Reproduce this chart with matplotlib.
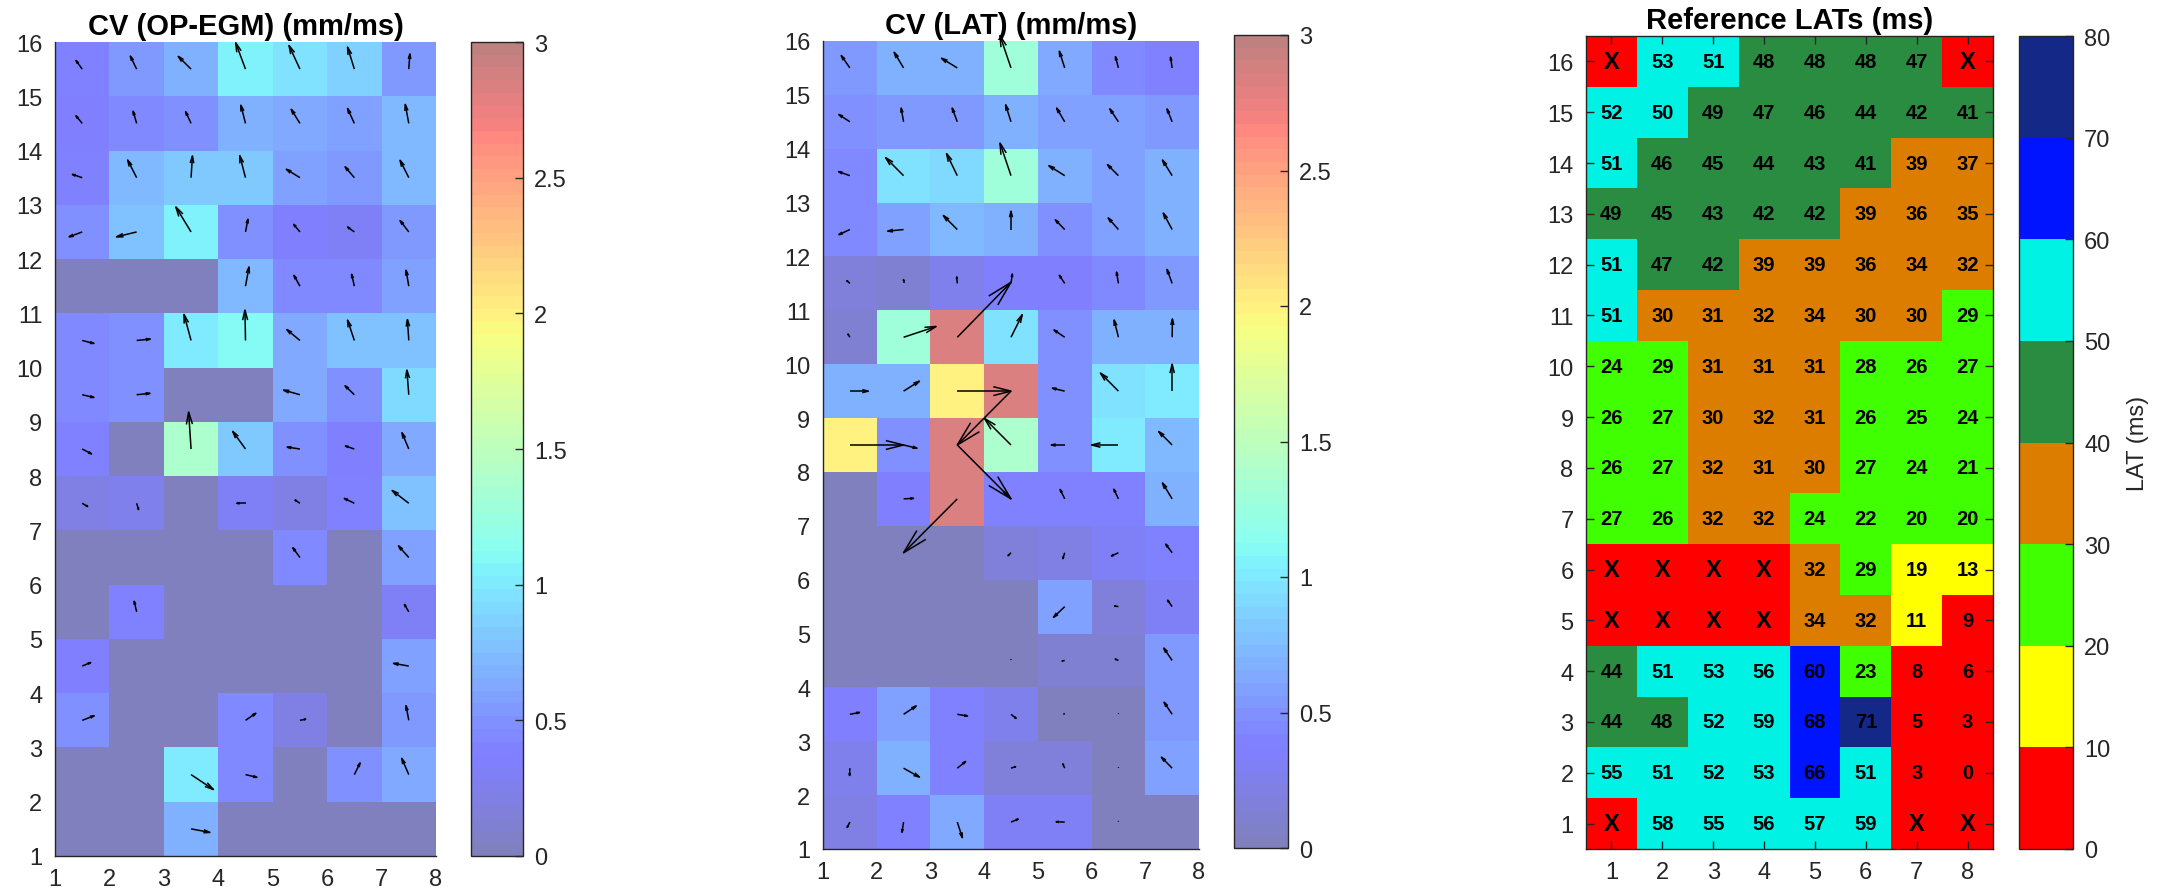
import numpy as np
import matplotlib
matplotlib.use("Agg")
import matplotlib.pyplot as plt
from matplotlib.colors import ListedColormap, BoundaryNorm
from matplotlib.collections import LineCollection

plt.rcParams['font.family'] = ['Liberation Sans', 'DejaVu Sans']

# ---------------------------------------------------------------------------
# Electrode grid: 8 columns x 16 rows of electrodes, CV defined per cell
# ---------------------------------------------------------------------------
x_ticks = list(range(1, 9))
y_ticks = list(range(1, 17))

# Conduction velocity vectors (mm/ms) per cell, rows listed top (15-16) to bottom (1-2)
opegm_u = [
    [-0.23, -0.23, -0.47, -0.36, -0.40, -0.25,  0.04],
    [-0.23, -0.13, -0.20, -0.17, -0.32, -0.25, -0.13],
    [-0.36, -0.33,  0.05, -0.21, -0.50, -0.34, -0.32],
    [-0.48, -0.74, -0.56,  0.09, -0.23, -0.25, -0.32],
    [ 0.00,  0.00,  0.00,  0.13, -0.22, -0.10, -0.10],
    [ 0.43,  0.50, -0.26, -0.02, -0.48, -0.25, -0.05],
    [ 0.43,  0.49,  0.00,  0.00, -0.60, -0.34, -0.07],
    [ 0.34,  0.00, -0.09, -0.47, -0.47, -0.33, -0.25],
    [ 0.20,  0.07,  0.00, -0.32, -0.18, -0.37, -0.61],
    [ 0.00,  0.00,  0.00,  0.00, -0.26,  0.00, -0.38],
    [ 0.00, -0.09,  0.00,  0.00,  0.00,  0.00, -0.16],
    [ 0.31,  0.00,  0.00,  0.00,  0.00,  0.00, -0.56],
    [ 0.44,  0.00,  0.00,  0.38,  0.21,  0.00, -0.10],
    [ 0.00,  0.00,  0.82,  0.42,  0.00,  0.21, -0.26],
    [ 0.00,  0.00,  0.69,  0.00,  0.00,  0.00,  0.00],
]
opegm_v = [
    [ 0.32,  0.48,  0.47,  0.97,  0.87,  0.81,  0.56],
    [ 0.28,  0.45,  0.43,  0.67,  0.52,  0.55,  0.70],
    [ 0.12,  0.65,  0.80,  0.81,  0.31,  0.40,  0.64],
    [-0.18, -0.18,  0.92,  0.47,  0.28,  0.18,  0.42],
    [ 0.00,  0.00,  0.00,  0.71,  0.40,  0.44,  0.59],
    [-0.11,  0.05,  0.96,  1.12,  0.40,  0.75,  0.77],
    [-0.10,  0.05,  0.00,  0.00,  0.17,  0.33,  0.91],
    [-0.18,  0.00,  1.36,  0.65,  0.07,  0.11,  0.60],
    [-0.12, -0.23,  0.00,  0.00,  0.12,  0.18,  0.47],
    [ 0.00,  0.00,  0.00,  0.00,  0.36,  0.00,  0.43],
    [ 0.00,  0.39,  0.00,  0.00,  0.00,  0.00,  0.27],
    [ 0.13,  0.00,  0.00,  0.00,  0.00,  0.00,  0.10],
    [ 0.17,  0.00,  0.00,  0.26,  0.04,  0.00,  0.54],
    [ 0.00,  0.00, -0.55, -0.10,  0.00,  0.43,  0.60],
    [ 0.00,  0.00, -0.13,  0.00,  0.00,  0.00,  0.00],
]

lat_u = [
    [-0.32, -0.35, -0.59, -0.41, -0.20, -0.11, -0.06],
    [-0.41, -0.09, -0.19, -0.20, -0.30, -0.32, -0.19],
    [-0.42, -0.67, -0.40, -0.41, -0.59, -0.41, -0.36],
    [-0.41, -0.59, -0.52,  0.00, -0.35, -0.38, -0.33],
    [-0.11,  0.00, -0.02,  0.05, -0.20, -0.07, -0.19],
    [-0.07,  1.21,  2.00,  0.42, -0.40, -0.16,  0.01],
    [ 0.69,  0.59,  2.00, -2.00, -0.46, -0.67,  0.00],
    [ 2.00,  0.50,  2.00, -0.99, -0.50, -1.00, -0.50],
    [ 0.00,  0.37, -2.00, -0.28, -0.17, -0.17, -0.36],
    [ 0.00,  0.00,  0.00, -0.11, -0.07, -0.26, -0.24],
    [ 0.00,  0.00,  0.00,  0.00, -0.42, -0.14, -0.17],
    [ 0.00,  0.00,  0.00,  0.00, -0.10, -0.12, -0.31],
    [ 0.36,  0.47,  0.38,  0.19, -0.03,  0.00, -0.30],
    [-0.01,  0.59,  0.31,  0.17, -0.07,  0.00, -0.40],
    [-0.10, -0.06,  0.19,  0.27, -0.32,  0.00,  0.00],
]
lat_v = [
    [ 0.46,  0.58,  0.36,  1.20,  0.62,  0.42,  0.40],
    [ 0.27,  0.51,  0.51,  0.63,  0.51,  0.48,  0.48],
    [ 0.15,  0.67,  0.82,  1.21,  0.37,  0.41,  0.58],
    [-0.19, -0.06,  0.52,  0.68,  0.36,  0.43,  0.61],
    [ 0.10,  0.14,  0.24,  0.35,  0.30,  0.42,  0.52],
    [ 0.12,  0.40,  2.04,  0.84,  0.27,  0.64,  0.68],
    [ 0.00,  0.37,  0.00, -2.00,  0.11,  0.67,  1.00],
    [ 0.00, -0.12, -2.00,  0.99,  0.00,  0.00,  0.50],
    [ 0.00,  0.02, -2.00,  0.28,  0.35,  0.36,  0.59],
    [ 0.00,  0.00,  0.00, -0.11, -0.22, -0.12,  0.32],
    [ 0.00,  0.00,  0.00,  0.00, -0.40,  0.02,  0.24],
    [ 0.00,  0.00,  0.00,  0.03, -0.02,  0.05,  0.46],
    [ 0.07,  0.31, -0.06, -0.15,  0.02,  0.02,  0.45],
    [-0.27, -0.33,  0.25,  0.06,  0.16,  0.02,  0.41],
    [-0.20, -0.38, -0.58,  0.11,  0.01,  0.02,  0.00],
]

# Reference local activation times (ms), rows top (16) to bottom (1); None = no signal
ref_lat = [
    [None, 53, 51, 48, 48, 48, 47, None],
    [52, 50, 49, 47, 46, 44, 42, 41],
    [51, 46, 45, 44, 43, 41, 39, 37],
    [49, 45, 43, 42, 42, 39, 36, 35],
    [51, 47, 42, 39, 39, 36, 34, 32],
    [51, 30, 31, 32, 34, 30, 30, 29],
    [24, 29, 31, 31, 31, 28, 26, 27],
    [26, 27, 30, 32, 31, 26, 25, 24],
    [26, 27, 32, 31, 30, 27, 24, 21],
    [27, 26, 32, 32, 24, 22, 20, 20],
    [None, None, None, None, 32, 29, 19, 13],
    [None, None, None, None, 34, 32, 11, 9],
    [44, 51, 53, 56, 60, 23, 8, 6],
    [44, 48, 52, 59, 68, 71, 5, 3],
    [55, 51, 52, 53, 66, 51, 3, 0],
    [None, 58, 55, 56, 57, 59, None, None],
]
lat_bounds = list(range(0, 81, 10))
lat_colors = ['#ff0000', '#ffff00', '#40ff00', '#dc7d00',
              '#2a8c41', '#00f2e4', '#0014ff', '#142887']

cv_ticks = [0, 0.5, 1, 1.5, 2, 2.5, 3]

# ---------------------------------------------------------------------------
W, H = 2166, 895
fig = plt.figure(figsize=(W / 100, H / 100), dpi=100)
fig.patch.set_facecolor('white')


def box(left, top, right, bottom):
    return [left / W, 1 - bottom / H, (right - left) / W, (bottom - top) / H]


ax1 = fig.add_axes(box(55, 43, 436, 857))
cax1 = fig.add_axes(box(471, 43, 523, 857))
ax2 = fig.add_axes(box(823, 42, 1199, 850))
cax2 = fig.add_axes(box(1234, 36, 1288, 849))
ax3 = fig.add_axes(box(1586, 37, 1993, 850))
cax3 = fig.add_axes(box(2019, 37, 2073, 850))

edge = '#262626'
tick_fs = 17
title_fs = 21

# jet colormap seen through 50 % transparency on white
jet = plt.get_cmap('jet', 64)(np.linspace(0, 1, 64))[:, :3]
cv_cmap = ListedColormap(0.5 * jet + 0.5)

ARROW_SCALE = 0.5
HEAD_LEN = 0.33
HEAD_WID = 0.25


def style_colorbar(cb):
    cb.ax.tick_params(direction='in', length=5.5, width=1.0, color=edge,
                      labelsize=tick_fs, labelcolor=edge, pad=8)
    cb.outline.set_edgecolor(edge)
    cb.outline.set_linewidth(1.0)


def draw_cv_panel(ax, cax, u_rows, v_rows, title):
    u = np.array(u_rows, dtype=float)[::-1]
    v = np.array(v_rows, dtype=float)[::-1]
    cv = np.hypot(u, v)
    xe = np.arange(1, 9)
    ye = np.arange(1, 17)
    mesh = ax.pcolormesh(xe, ye, cv, cmap=cv_cmap, vmin=0, vmax=3,
                         shading='flat', edgecolors='none', antialiased=False)
    xc, yc = np.meshgrid(xe[:-1] + 0.5, ye[:-1] + 0.5)
    du = u * ARROW_SCALE
    dv = v * ARROW_SCALE
    segs = []
    for x0, y0, a, b in zip(xc.ravel(), yc.ravel(), du.ravel(), dv.ravel()):
        if a == 0 and b == 0:
            continue
        tx, ty = x0 + a, y0 + b
        segs.append([(x0, y0), (tx, ty)])
        segs.append([(tx - HEAD_LEN * (a + HEAD_WID * b), ty - HEAD_LEN * (b - HEAD_WID * a)),
                     (tx, ty),
                     (tx - HEAD_LEN * (a - HEAD_WID * b), ty - HEAD_LEN * (b + HEAD_WID * a))])
    lc = LineCollection(segs, colors='black', linewidths=1.1, clip_on=False, zorder=3)
    ax.add_collection(lc)

    ax.set_xlim(1, 8)
    ax.set_ylim(1, 16)
    ax.set_xticks(x_ticks)
    ax.set_yticks(y_ticks)
    ax.tick_params(length=0, labelsize=tick_fs, labelcolor=edge, pad=9)
    for s in ('top', 'right'):
        ax.spines[s].set_visible(False)
    for s in ('left', 'bottom'):
        ax.spines[s].set_color(edge)
        ax.spines[s].set_linewidth(1.0)
        ax.spines[s].set_zorder(4)
    ax.set_title(title, fontsize=title_fs, fontweight='bold', pad=6)

    cb = fig.colorbar(mesh, cax=cax, ticks=cv_ticks)
    cb.ax.set_yticklabels([f'{t:g}' for t in cv_ticks])
    style_colorbar(cb)
    return mesh


draw_cv_panel(ax1, cax1, opegm_u, opegm_v, 'CV (OP-EGM) (mm/ms)')
draw_cv_panel(ax2, cax2, lat_u, lat_v, 'CV (LAT) (mm/ms)')

# --- Reference LAT map -------------------------------------------------------
lat = np.array([[np.nan if val is None else val for val in row] for row in ref_lat],
               dtype=float)[::-1]
lat_cmap = ListedColormap(lat_colors)
lat_cmap.set_bad(lat_colors[0])
lat_norm = BoundaryNorm(lat_bounds, lat_cmap.N)
mesh3 = ax3.pcolormesh(np.arange(0.5, 9), np.arange(0.5, 17), np.ma.masked_invalid(lat),
                       cmap=lat_cmap, norm=lat_norm, shading='flat',
                       edgecolors='none', antialiased=False)
for r in range(lat.shape[0]):
    for c in range(lat.shape[1]):
        val = lat[r, c]
        if np.isnan(val):
            ax3.text(c + 1, r + 1, 'X', ha='center', va='center',
                     fontsize=17, fontweight='bold', color='black', zorder=5)
        else:
            ax3.text(c + 1, r + 1, f'{int(val)}', ha='center', va='center',
                     fontsize=14.5, fontweight='bold', color='black', zorder=5)
ax3.set_xlim(0.5, 8.5)
ax3.set_ylim(0.5, 16.5)
ax3.set_xticks(x_ticks)
ax3.set_yticks(y_ticks)
ax3.set_axisbelow(False)
ax3.tick_params(direction='in', top=True, right=True, length=5.5, width=1.0,
                color=edge, labelsize=tick_fs, labelcolor=edge, pad=9)
for s in ax3.spines.values():
    s.set_color(edge)
    s.set_linewidth(1.0)
ax3.set_title('Reference LATs (ms)', fontsize=title_fs, fontweight='bold', pad=6)

cb3 = fig.colorbar(mesh3, cax=cax3, ticks=lat_bounds)
style_colorbar(cb3)
cb3.set_label('LAT (ms)', fontsize=tick_fs, color=edge, labelpad=12)

fig.savefig('out.png', dpi=100, facecolor='white')
